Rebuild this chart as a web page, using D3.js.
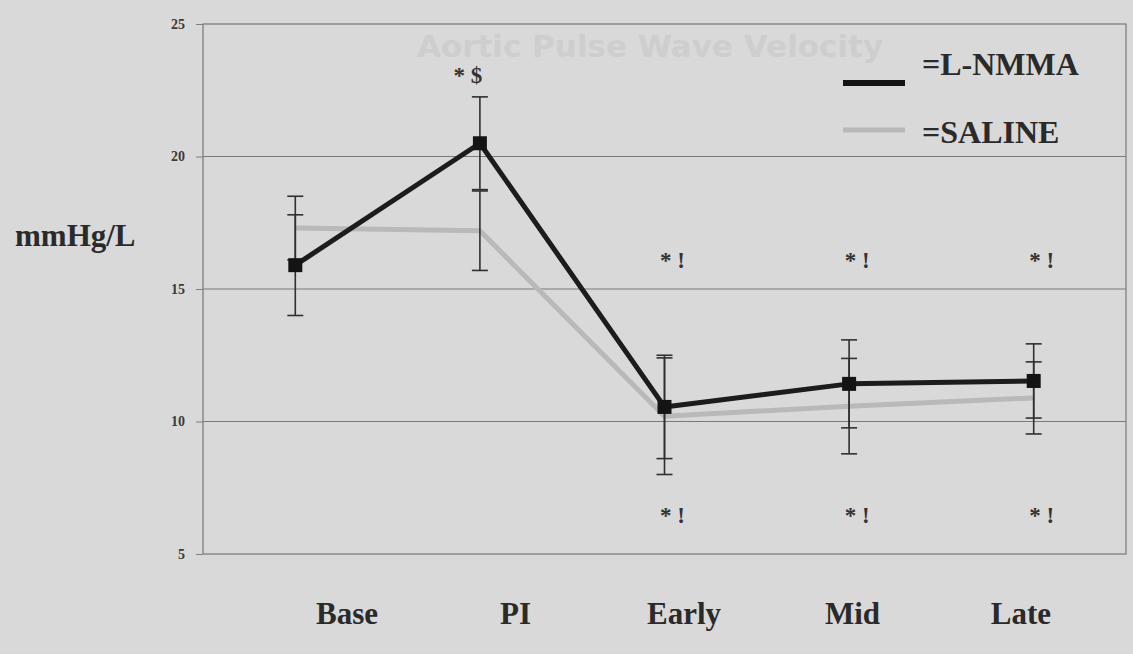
<!DOCTYPE html>
<html><head><meta charset="utf-8">
<script src="https://cdn.jsdelivr.net/npm/d3@7"></script>
<style>
html,body{margin:0;padding:0;background:#d9d9d9;}
svg{display:block;}
</style></head>
<body>
<svg id="chart" width="1133" height="654"></svg>
<script>
const categories = ["Base", "PI", "Early", "Mid", "Late"];
const lnmmaValues = [15.9, 20.5, 10.55, 11.42, 11.53];
const lnmmaErrors = [1.9, 1.75, 1.95, 1.66, 1.4];
const salineValues = [17.3, 17.2, 10.2, 10.58, 10.89];
const salineErrors = [1.2, 1.5, 2.2, 1.8, 1.36];
const yTicks = [5, 10, 15, 20, 25];
const upperNotes = ["", "* $", "* !", "* !", "* !"];
const lowerNotes = ["", "", "* !", "* !", "* !"];
const seriesNames = ["=L-NMMA", "=SALINE"];
const yLabel = "mmHg/L";
const ghostTitle = "Aortic Pulse Wave Velocity";

const svg = d3.select("#chart");
const W = 1133, H = 654;
const m = {left: 203, right: 1126, top: 24, bottom: 554};

svg.append("rect").attr("width", W).attr("height", H).attr("fill", "#d9d9d9");

// faint bleed-through title from the reverse page
svg.append("text").attr("x", 650).attr("y", 57).attr("text-anchor", "middle")
  .attr("font-family", "DejaVu Sans").attr("font-weight", "bold").attr("font-size", 31)
  .attr("fill", "#cecece").text(ghostTitle);

const x = d3.scaleBand().domain(categories).range([m.left, m.right]);
const cx = d => x(d) + x.bandwidth() / 2;
const y = d3.scaleLinear().domain([5, 25]).range([m.bottom, m.top]);
const xLab = d3.scalePoint().domain(categories).range([347, 1021]);

// gridlines
svg.append("g").selectAll("line").data(yTicks.filter(t => t > 5 && t < 25)).join("line")
  .attr("x1", m.left).attr("x2", m.right).attr("y1", d => y(d)).attr("y2", d => y(d))
  .attr("stroke", "#7a7a7a").attr("stroke-width", 1.2);

// plot border
svg.append("rect").attr("x", m.left).attr("y", m.top)
  .attr("width", m.right - m.left).attr("height", m.bottom - m.top)
  .attr("fill", "none").attr("stroke", "#7f7f7f").attr("stroke-width", 1.3);

// y axis
const yAxis = d3.axisLeft(y).tickValues(yTicks).tickSize(7).tickPadding(11);
const gy = svg.append("g").attr("transform", `translate(${m.left},0)`).call(yAxis);
gy.select(".domain").remove();
gy.selectAll(".tick line").attr("stroke", "#7f7f7f");
gy.selectAll(".tick text").attr("font-family", "Liberation Serif").attr("font-weight", "bold")
  .attr("font-size", 14).attr("fill", "#3a3a3a");

svg.append("text").attr("x", 15).attr("y", 246)
  .attr("font-family", "Liberation Serif").attr("font-weight", "bold").attr("font-size", 31)
  .attr("fill", "#2a2a2a").text(yLabel);

// x labels
svg.append("g").selectAll("text").data(categories).join("text")
  .attr("x", d => xLab(d)).attr("y", 624).attr("text-anchor", "middle")
  .attr("font-family", "Liberation Serif").attr("font-weight", "bold").attr("font-size", 31)
  .attr("fill", "#2a2a2a").text(d => d);

const line = d3.line().x((d, i) => cx(categories[i])).y(d => y(d));

function errorBars(vals, errs) {
  const g = svg.append("g");
  vals.forEach((v, i) => {
    const px = cx(categories[i]);
    const lo = y(v - errs[i]), hi = y(v + errs[i]);
    g.append("line").attr("x1", px).attr("x2", px).attr("y1", hi).attr("y2", lo)
      .attr("stroke", "#303030").attr("stroke-width", 1.6);
    [lo, hi].forEach(yy => g.append("line").attr("x1", px - 8).attr("x2", px + 8)
      .attr("y1", yy).attr("y2", yy).attr("stroke", "#303030").attr("stroke-width", 1.6));
  });
}

// saline
svg.append("path").datum(salineValues).attr("d", line).attr("fill", "none")
  .attr("stroke", "#b9b9b9").attr("stroke-width", 5).attr("stroke-linejoin", "round");
errorBars(salineValues, salineErrors);
errorBars(lnmmaValues, lnmmaErrors);
// L-NMMA
svg.append("path").datum(lnmmaValues).attr("d", line).attr("fill", "none")
  .attr("stroke", "#1c1c1c").attr("stroke-width", 5).attr("stroke-linejoin", "round");
svg.append("g").selectAll("rect").data(lnmmaValues).join("rect")
  .attr("x", (d, i) => cx(categories[i]) - 7).attr("y", d => y(d) - 7)
  .attr("width", 14).attr("height", 14).attr("fill", "#141414");

// annotations
const noteStyle = sel => sel.attr("font-family", "Liberation Serif").attr("font-weight", "bold")
  .attr("font-size", 23).attr("fill", "#333").attr("text-anchor", "middle")
  .attr("xml:space", "preserve");
svg.append("g").selectAll("text").data(upperNotes).join("text")
  .attr("x", (d, i) => cx(categories[i]) + (i === 1 ? -12 : 8))
  .attr("y", (d, i) => i === 1 ? 83 : 268)
  .call(noteStyle).text(d => d);
svg.append("g").selectAll("text").data(lowerNotes).join("text")
  .attr("x", (d, i) => cx(categories[i]) + 8).attr("y", 523)
  .call(noteStyle).text(d => d);

// legend
const legColors = ["#141414", "#b9b9b9"];
const legWidths = [6, 5];
const legY = [83, 130];
const legTextY = [75, 143];
seriesNames.forEach((s, i) => {
  svg.append("line").attr("x1", 843).attr("x2", 905).attr("y1", legY[i]).attr("y2", legY[i])
    .attr("stroke", legColors[i]).attr("stroke-width", legWidths[i]);
  svg.append("text").attr("x", 922).attr("y", legTextY[i])
    .attr("font-family", "Liberation Serif").attr("font-weight", "bold").attr("font-size", 32)
    .attr("fill", "#2a2a2a").text(s);
});
</script>
</body></html>
